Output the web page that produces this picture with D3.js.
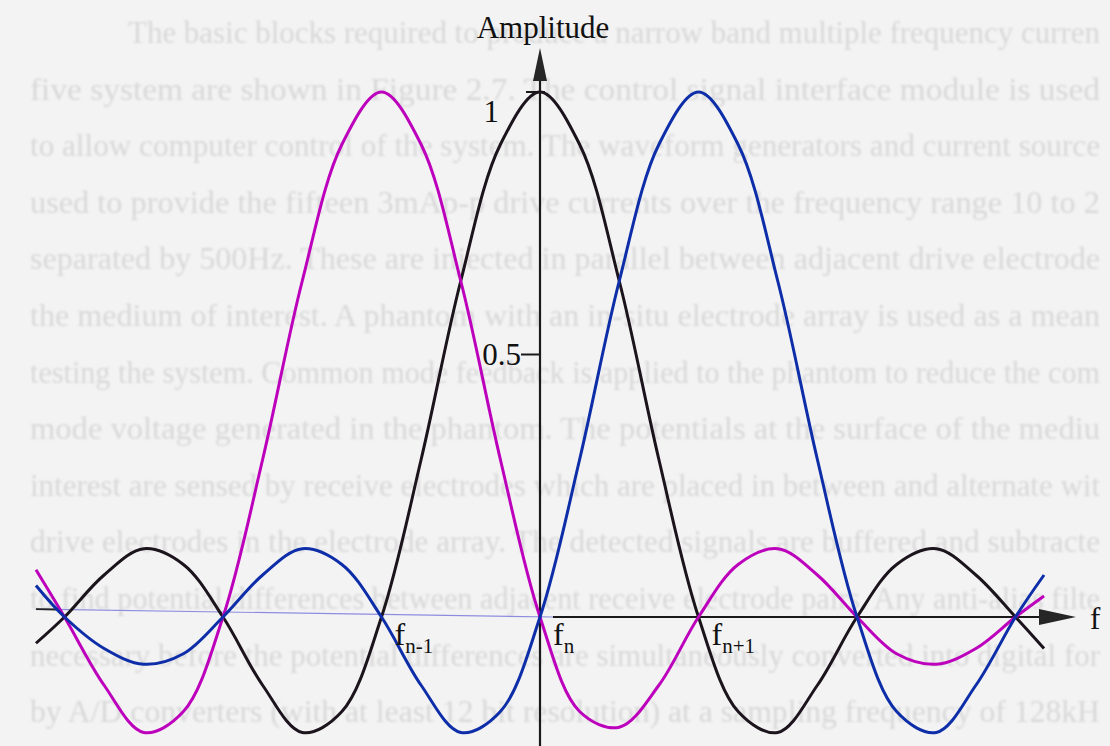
<!DOCTYPE html>
<html>
<head>
<meta charset="utf-8">
<script src="https://cdn.jsdelivr.net/npm/d3@7"></script>
<style>
  html, body { margin: 0; padding: 0; background: #f3f3f3; overflow: hidden; }
  svg { display: block; }
</style>
</head>
<body>
<svg id="chart" width="1110" height="746"></svg>
<script>
// Frequency positions, in channel spacings measured from f_n
const freqSteps = [-3.18, -3, -2.75, -2.5, -2.25, -2, -1.75, -1.5, -1.25, -1, -0.75, -0.5, -0.25, 0,
                   0.25, 0.5, 0.75, 1, 1.25, 1.5, 1.75, 2, 2.25, 2.5, 2.75, 3, 3.18];

// Amplitude response of each channel at those positions
const channelPrev   = [0.09, 0, -0.13, -0.22, -0.18, 0, 0.30, 0.64, 0.90, 1.00, 0.90, 0.64, 0.30, 0,
                       -0.18, -0.21, -0.13, 0, 0.10, 0.13, 0.08, 0, -0.07, -0.09, -0.06, 0, 0.04];
const channelCentre = [-0.05, 0, 0.08, 0.13, 0.10, 0, -0.13, -0.22, -0.18, 0, 0.30, 0.64, 0.90, 1.00,
                       0.90, 0.64, 0.30, 0, -0.18, -0.22, -0.13, 0, 0.10, 0.13, 0.08, 0, -0.06];
const channelNext   = [0.06, 0, -0.06, -0.09, -0.07, 0, 0.08, 0.13, 0.10, 0, -0.13, -0.22, -0.18, 0,
                       0.30, 0.64, 0.90, 1.00, 0.90, 0.64, 0.30, 0, -0.18, -0.22, -0.13, 0, 0.08];

// Channel centre positions and their subscripts
const channelCentres = [-1, 0, 1];
const channelSubs = ["n-1", "n", "n+1"];

// Amplitude axis ticks
const yTicks = [0.5, 1];
const yTickLabels = ["0.5", "1"];

// Printed text of the page the figure sits on, showing through faintly
const pageLines = [
  "The basic blocks required to produce a narrow band multiple frequency curren",
  "five system are shown in Figure 2.7. The control signal interface module is used",
  "to allow computer control of the system. The waveform generators and current source",
  "used to provide the fifteen 3mAp-p drive currents over the frequency range 10 to 2",
  "separated by 500Hz. These are injected in parallel between adjacent drive electrode",
  "the medium of interest. A phantom with an in-situ electrode array is used as a mean",
  "testing the system. Common mode feedback is applied to the phantom to reduce the com",
  "mode voltage generated in the phantom. The potentials at the surface of the mediu",
  "interest are sensed by receive electrodes which are placed in between and alternate wit",
  "drive electrodes in the electrode array. The detected signals are buffered and subtracte",
  "to find potential differences between adjacent receive electrode pairs. Any anti-alias filte",
  "necessary before the potential differences are simultaneously converted into digital for",
  "by A/D converters (with at least 12 bit resolution) at a sampling frequency of 128kH"
];

const W = 1110, H = 746;
const serif = "'Liberation Serif', 'Times New Roman', 'DejaVu Serif', serif";

const x = d3.scaleLinear().domain([-3, 3]).range([64.5, 1015.5]);
const y = d3.scaleLinear().domain([0, 1]).range([617, 92]);
const x0 = x(0);
const yZero = y(0);

const svg = d3.select("#chart");
const defs = svg.append("defs");
defs.append("filter").attr("id", "soft")
  .append("feGaussianBlur").attr("stdDeviation", 0.9);

svg.append("rect").attr("width", W).attr("height", H).attr("fill", "#f3f3f3");

// faint page text behind the figure, justified to the page width
const lineStart = (d, i) => i === 0 ? 128 : 30;
svg.append("g")
  .attr("filter", "url(#soft)")
  .attr("fill", "#d8d8d8")
  .style("font-family", serif)
  .style("font-size", "32px")
  .selectAll("text")
  .data(pageLines)
  .join("text")
  .attr("x", lineStart)
  .attr("y", (d, i) => 43 + i * 56.6)
  .attr("textLength", (d, i) => 1100 - lineStart(d, i))
  .attr("lengthAdjust", "spacingAndGlyphs")
  .text(d => d);

// thin baseline left of the amplitude axis
svg.append("line")
  .attr("x1", x(-3.18)).attr("y1", y(0.015))
  .attr("x2", x0 + 13).attr("y2", yZero)
  .attr("stroke", "#8d8de0").attr("stroke-width", 1.2);
svg.append("line")
  .attr("x1", x(-3.18)).attr("y1", y(0.015))
  .attr("x2", x(-3.18) + 20).attr("y2", y(0.0145))
  .attr("stroke", "#222").attr("stroke-width", 2);

// frequency axis with arrow
svg.append("line")
  .attr("x1", x0 + 13).attr("x2", 1042)
  .attr("y1", yZero).attr("y2", yZero)
  .attr("stroke", "#1a1a1a").attr("stroke-width", 2.2);
svg.append("path")
  .attr("d", `M1039,${yZero - 8}L1076,${yZero}L1039,${yZero + 8}Z`)
  .attr("fill", "#262626");

// amplitude axis with arrow
svg.append("line")
  .attr("x1", x0).attr("x2", x0)
  .attr("y1", 80).attr("y2", H)
  .attr("stroke", "#1a1a1a").attr("stroke-width", 2.2);
svg.append("path")
  .attr("d", `M${x0 - 7},81L${x0},48L${x0 + 7},81Z`)
  .attr("fill", "#262626");

// amplitude ticks and labels
const tickG = svg.append("g").selectAll("g").data(yTicks).join("g");
tickG.append("line")
  .attr("x1", d => d === 1 ? x0 - 14 : x0 - 19)
  .attr("x2", d => d === 1 ? x0 + 5 : x0)
  .attr("y1", d => y(d)).attr("y2", d => y(d))
  .attr("stroke", "#1a1a1a").attr("stroke-width", 2);
tickG.append("text")
  .attr("x", d => d === 1 ? x0 - 41 : x0 - 19)
  .attr("y", d => d === 1 ? y(d) + 30 : y(d) + 10)
  .attr("text-anchor", "end")
  .style("font-family", serif)
  .style("font-size", "31px")
  .attr("fill", "#111")
  .text((d, i) => yTickLabels[i]);

// axis titles
svg.append("text")
  .attr("x", x0 + 3).attr("y", 38)
  .attr("text-anchor", "middle")
  .style("font-family", serif).style("font-size", "31px")
  .attr("fill", "#111")
  .text("Amplitude");
svg.append("text")
  .attr("x", 1090).attr("y", yZero + 12)
  .style("font-family", serif).style("font-size", "31px")
  .attr("fill", "#111")
  .text("f");

// channel response curves
const lineGen = d3.line()
  .x((d, i) => x(freqSteps[i]))
  .y(d => y(d))
  .curve(d3.curveCatmullRom.alpha(0.5));

const curves = [
  { values: channelCentre, color: "#1c141c" },
  { values: channelPrev, color: "#bc00bc" },
  { values: channelNext, color: "#0d2ea8" }
];
svg.append("g").selectAll("path").data(curves).join("path")
  .attr("d", d => lineGen(d.values))
  .attr("fill", "none")
  .attr("stroke", d => d.color)
  .attr("stroke-width", 3)
  .attr("stroke-linejoin", "round");

// channel centre frequency labels
const lab = svg.append("g").selectAll("text").data(channelCentres).join("text")
  .attr("x", d => x(d) + 13)
  .attr("y", yZero + 28)
  .style("font-family", serif)
  .attr("fill", "#111");
lab.append("tspan").style("font-size", "32px").text("f");
lab.append("tspan").style("font-size", "21px").attr("dy", 8).text((d, i) => channelSubs[i]);
</script>
</body>
</html>
